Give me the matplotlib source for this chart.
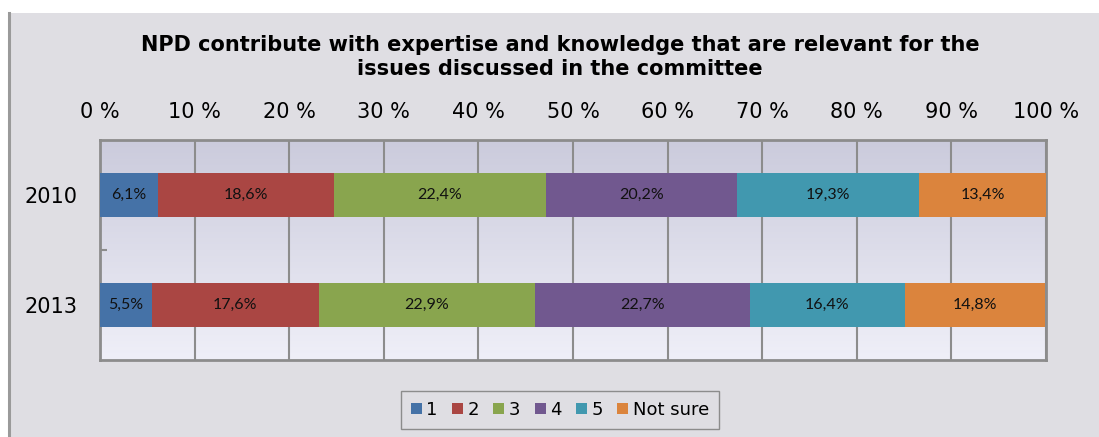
import numpy as np
import matplotlib
matplotlib.use("Agg")
import matplotlib.pyplot as plt
from matplotlib.lines import Line2D
from matplotlib.patches import Rectangle

years = ["2010", "2013"]
answers = ["1", "2", "3", "4", "5", "Not sure"]
shares_2010 = [6.1, 18.6, 22.4, 20.2, 19.3, 13.4]
shares_2013 = [5.5, 17.6, 22.9, 22.7, 16.4, 14.8]
colors = ["#4572a7", "#aa4643", "#89a54e", "#71588f", "#4198af", "#db843d"]
title = "NPD contribute with expertise and knowledge that are relevant for the\nissues discussed in the committee"

bg = "#dfdee3"
edge = "#8c8c8c"

fig = plt.figure(figsize=(10.99, 4.37), dpi=100)
fig.patch.set_facecolor("white")

# grey chart area with a border on the left, white strip on top
fig.patches.append(Rectangle((8 / 1099, 0), 1 - 8 / 1099, 1 - 13 / 437,
                             transform=fig.transFigure, facecolor=bg,
                             edgecolor="none", zorder=-10))
fig.lines.append(Line2D([8.5 / 1099, 8.5 / 1099], [0, 1 - 13 / 437],
                        transform=fig.transFigure, color="#9a9a9a", lw=2.2,
                        zorder=-9))

ax = fig.add_axes([100 / 1099, 1 - 360 / 437, 946 / 1099, 220 / 437])

# vertical gradient behind the bars
grad = np.linspace(0, 1, 256).reshape(-1, 1)
cmap = matplotlib.colors.LinearSegmentedColormap.from_list("bgfill", ["#cbcbdc", "#efeff8"])
ax.imshow(grad, extent=[0, 100, 1.5, -0.5], aspect="auto", cmap=cmap, zorder=0)

data = [shares_2010, shares_2013]
ypos = np.arange(len(years))
for i, name in enumerate(answers):
    vals = np.array([row[i] for row in data])
    lefts = np.array([sum(row[:i]) for row in data])
    ax.barh(ypos, vals, left=lefts, height=0.4, color=colors[i],
            edgecolor="none", label=name, zorder=3)
    for y, v, l in zip(ypos, vals, lefts):
        ax.text(l + v / 2, y, f"{v:.1f}%".replace(".", ","), ha="center",
                va="center", fontsize=11.5, family="Lato", color="#111111", zorder=4)

ax.set_xlim(0, 100)
ax.set_ylim(1.5, -0.5)
ax.set_xticks(np.arange(0, 101, 10))
ax.set_xticklabels([f"{t} %" for t in range(0, 101, 10)])
ax.xaxis.tick_top()
ax.set_yticks(ypos)
ax.set_yticklabels(years)
ax.set_yticks([0.5], minor=True)
ax.tick_params(axis="x", which="major", length=0, labelsize=15, pad=13)
ax.tick_params(axis="y", which="major", length=0, labelsize=15, pad=16)
ax.tick_params(axis="y", which="minor", direction="in", length=5, color=edge, width=1.5)
ax.grid(axis="x", color=edge, lw=1.5, zorder=1)
for s in ax.spines.values():
    s.set_color(edge)
    s.set_linewidth(2)

fig.text(560 / 1099, 1 - 57 / 437, title, ha="center", va="center",
         fontsize=15, fontweight="bold", linespacing=1.3)

fig.legend(loc="center", bbox_to_anchor=(560 / 1099, 1 - 410 / 437), ncol=6,
           fontsize=13, frameon=True, fancybox=False, edgecolor=edge,
           facecolor=bg, framealpha=1, handlelength=0.6, handleheight=0.6,
           handletextpad=0.25, columnspacing=0.8, borderpad=0.55)

fig.savefig("out.png", dpi=100, facecolor=fig.get_facecolor())
